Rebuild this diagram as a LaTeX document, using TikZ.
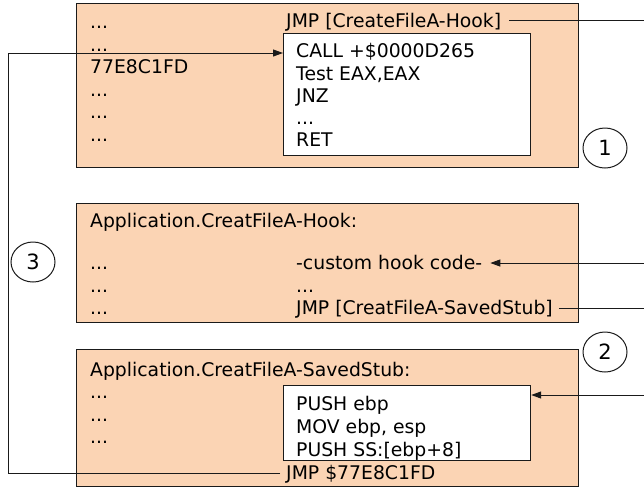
\documentclass[tikz,border=0pt]{standalone}
\usepackage{fontspec}
\setmainfont{DejaVu Sans}
\usetikzlibrary{arrows.meta,shapes.geometric}
\definecolor{peach}{HTML}{FBD4B4}
\definecolor{edge}{HTML}{1A1A1A}

\tikzset{
  codebox/.style={draw=edge, fill=peach, line width=1.2pt, anchor=north west, inner sep=0pt},
  stubbox/.style={draw=edge, fill=white, line width=1.2pt, anchor=north west, inner sep=0pt},
  asm/.style={anchor=west, inner sep=0pt, text height=13pt, text depth=0pt, font=\fontsize{18.8}{22}\selectfont},
  stepmark/.style={draw=edge, ellipse, line width=1pt, minimum width=44pt, minimum height=40pt, inner sep=0pt, font=\fontsize{21}{24}\selectfont},
  link/.style={draw=edge, line width=1pt},
  linkarrow/.style={link, -{Triangle[length=10pt,width=7pt]}}
}

\begin{document}
\begin{tikzpicture}[x=1pt,y=-1pt]
    \useasboundingbox (0,0) rectangle (644,488);
    \coordinate (rightedge) at (644,0);
    \coordinate (loopx) at (8,0);

    % Original CreateFileA
    \node[codebox, minimum width=502pt, minimum height=164pt] (orig) at (76,3) {};
    \node[stubbox, minimum width=247pt, minimum height=122pt] (stub1) at (283,33) {};
    \node[asm] (o1) at (90,22) {...};
    \node[asm] (o2) at (90,44.5) {...};
    \node[asm] (addr) at (90,67) {77E8C1FD};
    \node[asm] (o4) at (90,89.5) {...};
    \node[asm] (o5) at (90,112) {...};
    \node[asm] (o6) at (90,134.5) {...};
    \node[asm] (hookjmp) at (286,20.5) {JMP [CreateFileA-Hook]};
    \node[asm] (s1) at (296,51) {CALL +\$0000D265};
    \node[asm] (s2) at (296,73.5) {Test EAX,EAX};
    \node[asm] (s3) at (296,96) {JNZ};
    \node[asm] (s4) at (296,118) {...};
    \node[asm] (s5) at (296,140) {RET};

    % Hook function
    \node[codebox, minimum width=502pt, minimum height=119pt] (hook) at (76,203) {};
    \node[asm] (h0) at (90,221) {Application.CreatFileA-Hook:};
    \node[asm] (h1) at (90,263) {...};
    \node[asm] (h2) at (90,285.5) {...};
    \node[asm] (h3) at (90,308) {...};
    \node[asm] (customcode) at (296,263) {-custom hook code-};
    \node[asm] (h5) at (296,285.5) {...};
    \node[asm] (stubjmp) at (296,308) {JMP [CreatFileA-SavedStub]};

    % Saved stub
    \node[codebox, minimum width=502pt, minimum height=137pt] (saved) at (76,349) {};
    \node[stubbox, minimum width=247pt, minimum height=75pt] (stub2) at (283,385) {};
    \node[asm] (v0) at (90,370) {Application.CreatFileA-SavedStub:};
    \node[asm] (v1) at (90,392) {...};
    \node[asm] (v2) at (90,414.5) {...};
    \node[asm] (v3) at (90,437) {...};
    \node[asm] (p1) at (296,404) {PUSH ebp};
    \node[asm] (p2) at (296,427) {MOV ebp, esp};
    \node[asm] (p3) at (296,450) {PUSH SS:[ebp+8]};
    \node[asm] (retjmp) at (286,473) {JMP \$77E8C1FD};

    % Step marks
    \node[stepmark] (step1) at (605,148) {1};
    \node[stepmark] (step2) at (605,352) {2};
    \node[stepmark] (step3) at (33,262) {3};

    % Connectors
    \coordinate (callin) at ([yshift=-20pt]stub1.north west);
    \coordinate (stubin) at ([yshift=-10pt]stub2.north east);
    \draw[link] ([xshift=8pt]hookjmp.east) -- (hookjmp.east -| rightedge);
    \draw[linkarrow] (customcode.east -| rightedge) -- ([xshift=8pt]customcode.east);
    \draw[link] ([xshift=6pt]stubjmp.east) -- (stubjmp.east -| rightedge);
    \draw[linkarrow] (stubin -| rightedge) -- (stubin);
    \draw[linkarrow] ([xshift=-6pt]retjmp.west) -- (retjmp.west -| loopx) -- (callin -| loopx) -- (callin);

\end{tikzpicture}
\end{document}
